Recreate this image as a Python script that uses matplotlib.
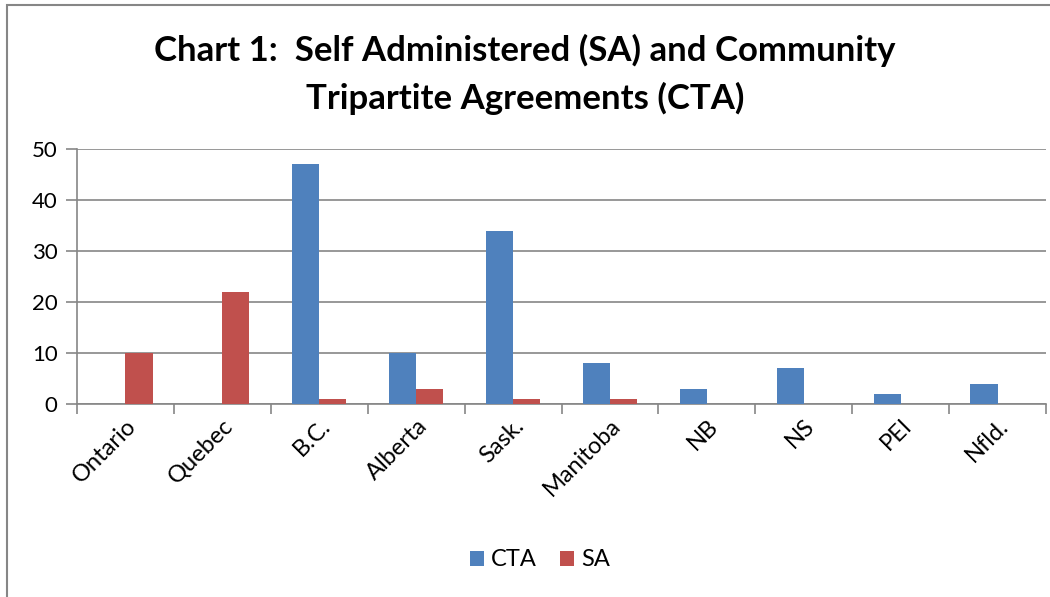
import numpy as np
import matplotlib.pyplot as plt
from matplotlib.patches import Rectangle

plt.rcParams['font.family'] = ['Lato', 'DejaVu Sans']

provincias = ['Ontario', 'Quebec', 'B.C.', 'Alberta', 'Sask.', 'Manitoba', 'NB', 'NS', 'PEI', 'Nfld.']
cta = [0, 0, 47, 10, 34, 8, 3, 7, 2, 4]
sa = [10, 22, 1, 3, 1, 1, 0, 0, 0, 0]

fig = plt.figure(figsize=(10.5, 5.97), dpi=100)
ax = fig.add_axes([77/1050, 1 - 404/597, (1046-77)/1050, (404-149)/597])

x = np.arange(len(provincias))
ancho = 0.28
ax.bar(x - ancho/2, cta, ancho, color='#4F81BD', label='CTA', zorder=3)
ax.bar(x + ancho/2, sa, ancho, color='#C0504D', label='SA', zorder=3)

ax.set_xlim(-0.5, len(provincias) - 0.5)
ax.set_ylim(0, 50)
ax.set_yticks(range(0, 51, 10))
ax.yaxis.grid(True, color='#868686', linewidth=1.2, zorder=0)
ax.set_xticks(x)
ax.set_xticklabels(provincias, rotation=45, ha='right', rotation_mode='anchor')
ax.set_xticks(np.arange(-0.5, len(provincias)), minor=True)
ax.tick_params(axis='x', which='major', length=0, pad=8, labelsize=17)
ax.tick_params(axis='x', which='minor', length=7, color='#868686', width=1.2)
ax.tick_params(axis='y', length=8, color='#868686', width=1.2, labelsize=16, pad=6)
for lado in ['top', 'right']:
    ax.spines[lado].set_visible(False)
for lado in ['left', 'bottom']:
    ax.spines[lado].set_color('#868686')
    ax.spines[lado].set_linewidth(1.2)

fig.text(0.5, 1 - 50/597, 'Chart 1:  Self Administered (SA) and Community', ha='center', va='center',
         fontsize=25, fontweight='bold')
fig.text(0.5, 1 - 98/597, 'Tripartite Agreements (CTA)', ha='center', va='center',
         fontsize=25, fontweight='bold')

fig.legend(loc='center', bbox_to_anchor=(540/1050, 1 - 560/597), ncol=2, frameon=False, fontsize=17,
           handlelength=0.6, handleheight=0.6, handletextpad=0.3, columnspacing=1.0)

fig.patches.append(Rectangle((7/1050, -0.1), 1.2, 1 - 5/597 + 0.1, transform=fig.transFigure,
                             fill=False, edgecolor='#868686', linewidth=1.5))

fig.savefig('out.png', dpi=100)
